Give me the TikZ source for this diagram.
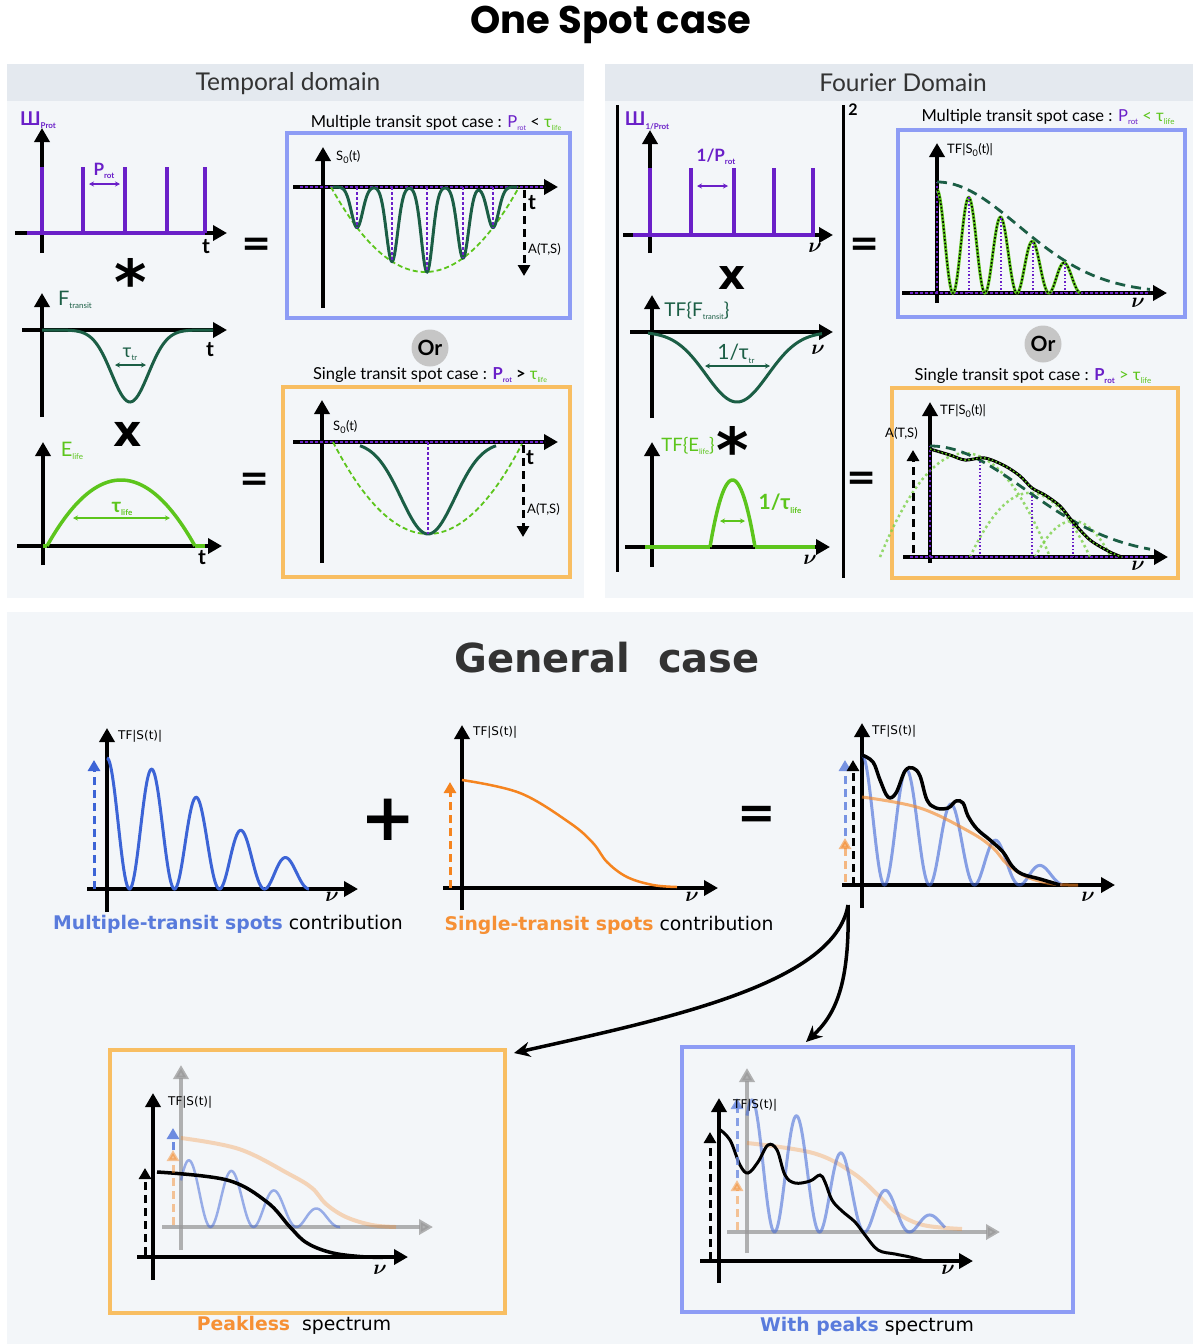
\documentclass[tikz,border=0pt]{standalone}
\usepackage{fontspec}
\setmainfont{Lato}
\newfontfamily\dejavu{DejaVu Sans}
\newfontfamily\poppins{Poppins}
\usetikzlibrary{positioning}
\usetikzlibrary{arrows.meta}

\definecolor{spotpurple}{HTML}{6A1FC8}
\definecolor{transitgreen}{HTML}{1B5E45}
\definecolor{lifegreen}{HTML}{5CC51C}
\definecolor{boxblue}{HTML}{8D9CF5}
\definecolor{boxorange}{HTML}{F8BE62}
\definecolor{peakblue}{HTML}{3C64D6}
\definecolor{flatorange}{HTML}{F5841F}
\definecolor{panelbg}{HTML}{F3F6F9}
\definecolor{headerbg}{HTML}{E4E9EF}
\definecolor{ordisk}{HTML}{C6C6C6}

\newcommand{\lowidx}[2][8]{\raisebox{-0.35ex}{\fontsize{#1}{#1}\selectfont #2}}

\begin{document}
\begin{tikzpicture}[x=1pt,y=-1pt,
	axis/.style={line width=3.5pt,-{Triangle[length=14pt,width=15pt]}},
	greyaxis/.style={axis,draw=black!40,opacity=.75},
	spike/.style={spotpurple,line width=3.5pt},
	dotline/.style={spotpurple,line width=2.5pt,dash pattern=on 2.5pt off 2.5pt},
	thindot/.style={spotpurple,line width=1.5pt,dash pattern=on 1.5pt off 2pt},
	envdash/.style={lifegreen,line width=1.8pt,dash pattern=on 5pt off 3pt},
	envelope/.style={transitgreen,line width=2.8pt,dash pattern=on 10pt off 6pt},
	dip/.style={transitgreen,line width=3pt},
	life/.style={lifegreen,line width=3.5pt},
	measure/.style={{Stealth[length=5pt,width=5pt]}-{Stealth[length=5pt,width=5pt]},line width=1.2pt},
	amp/.style={line width=3pt,dash pattern=on 8pt off 5pt,-{Triangle[length=11pt,width=12pt]}},
	bigarrow/.style={line width=3.5pt,-{Stealth[length=16pt,width=15pt]}},
	plotbox/.style={draw,line width=4pt,fill=panelbg,inner sep=0pt},
	opsign/.style={font=\dejavu\bfseries\fontsize{36}{36}\selectfont,inner sep=0pt},
	orbubble/.style={circle,fill=ordisk,minimum size=37pt,inner sep=0pt,font=\bfseries\fontsize{21}{21}\selectfont},
	casetitle/.style={font=\fontsize{16.5}{16.5}\selectfont,inner sep=0pt},
	axlabel/.style={font=\fontsize{13}{13}\selectfont,inner sep=0pt},
	tflabel/.style={font=\dejavu\fontsize{12}{12}\selectfont,inner sep=0pt},
	tlabel/.style={font=\bfseries\fontsize{21}{21}\selectfont,inner sep=0pt},
	nulabel/.style={font=\boldmath\fontsize{22}{22}\selectfont,inner sep=0pt},
	contrib/.style={font=\dejavu\fontsize{18.8}{18.8}\selectfont,inner sep=0pt},
	declare function={
		envl(\c)=85*(1-((\c-425)/94)^2);
		dipl(\x,\c)=envl(\c)*exp(-min(((\x-\c)/8)^2,12));
		envr(\x)=111*exp(-((\x-937)/115)^2);
		envs(\x)=111*exp(-((\x-930)/135)^2);
	}]

	\useasboundingbox[fill=white] (0,0) rectangle (1200,1344);

	%backgrounds of the three panels
	\fill[panelbg] (7,64) rectangle (584,598);
	\fill[headerbg] (7,64) rectangle (584,101);
	\fill[panelbg] (605,64) rectangle (1193,598);
	\fill[headerbg] (605,64) rectangle (1193,101);
	\fill[panelbg] (7,612) rectangle (1193,1344);

	\node[font=\poppins\bfseries\fontsize{38.5}{40}\selectfont] (onespot) at (611,25) {One Spot case};
	\node[font=\fontsize{24.5}{24.5}\selectfont,text=black!80] (temporal) at (288,84) {Temporal domain};
	\node[font=\fontsize{24.5}{24.5}\selectfont,text=black!80] (fourier) at (903,83) {Fourier Domain};

	%temporal domain: comb, transit and lifetime
	\begin{scope}
		\draw[axis] (42,253) -- (42,128);
		\draw[axis] (15,233) -- (227,233);
		\draw[spike] (27,233) -- (205,233);
		\foreach \s in {42,83,125,167,205}
			\draw[spike] (\s,233) -- (\s,167);
		\node[text=spotpurple,font=\bfseries\fontsize{19}{19}\selectfont,inner sep=0pt] (combl) at (38,120) {Ш\lowidx{Prot}};
		\node[text=spotpurple,font=\bfseries\fontsize{17}{17}\selectfont,inner sep=0pt] (protl) at (104,171) {P\lowidx{rot}};
		\draw[measure,spotpurple] (89,184) -- (120,184);
		\node[tlabel] (tcomb) at (206,247) {t};
		\node[opsign,font=\dejavu\bfseries\fontsize{62}{62}\selectfont] (convl) at (131,281) {*};

		\draw[axis] (42,417) -- (42,293);
		\draw[axis] (22,330) -- (227,330);
		\draw[dip] plot[domain=42:213,samples=90] (\x,{330+72*exp(-((\x-130)/26)^2)});
		\node[text=transitgreen,font=\fontsize{20}{20}\selectfont,inner sep=0pt] (ftransit) at (75,300) {F\lowidx{transit}};
		\node[text=transitgreen,font=\fontsize{19}{19}\selectfont,inner sep=0pt] (tautr) at (130,354) {τ\lowidx{tr}};
		\draw[measure,transitgreen] (115,365) -- (146,365);
		\node[tlabel] (ttransit) at (210,350) {t};
		\node[opsign,font=\dejavu\bfseries\fontsize{44}{44}\selectfont] (timesl) at (128,434) {x};

		\draw[axis] (43,565) -- (43,442);
		\draw[axis] (17,546) -- (222,546);
		\draw[life] (43,546) -- (47,546);
		\draw[life] plot[domain=47:195,samples=60] (\x,{546-66*(1-((\x-121)/74)^2)});
		\draw[life] (195,546) -- (205,546);
		\node[text=lifegreen,font=\fontsize{20}{20}\selectfont,inner sep=0pt] (elife) at (72,451) {E\lowidx{life}};
		\node[text=lifegreen,font=\bfseries\fontsize{20}{20}\selectfont,inner sep=0pt] (taulife) at (122,509) {τ\lowidx{life}};
		\draw[measure,lifegreen] (73,518) -- (170,518);
		\node[tlabel] (tlife) at (202,558) {t};

		\node[opsign] (eqla) at (257,247) {=};
		\node[opsign] (eqlb) at (255,482) {=};
	\end{scope}

	%temporal domain: the two resulting light curves
	\begin{scope}
		\node[plotbox,draw=boxblue,minimum width=283pt,minimum height=185pt] (multileft) at (428.5,225.5) {};
		\node[casetitle] (multilefttitle) at (436,123) {Multiple transit spot case : \textcolor{spotpurple}{P\lowidx[7]{rot}} < \textcolor{lifegreen}{τ\lowidx[7]{life}}};
		\draw[axis] (323,308) -- (323,147);
		\draw[axis] (293,187) -- (558,187);
		\draw[dotline] (300,187) -- (545,187);
		\draw[envdash] plot[domain=331:519,samples=60] (\x,{187+envl(\x)});
		\draw[dip] plot[domain=333:517,samples=300] (\x,{187+dipl(\x,357)+dipl(\x,392)+dipl(\x,427)+dipl(\x,463)+dipl(\x,493)});
		\foreach \c in {357,392,427,463,493}
			\draw[dotline] (\c,187) -- (\c,{187+envl(\c)});
		\draw[amp] (524,190) -- (524,276);
		\node[axlabel,anchor=west] (smulti) at (336,157) {S\textsubscript{0}(t)};
		\node[tlabel] (tmulti) at (532,203) {t};
		\node[axlabel,anchor=west] (amulti) at (528,249) {A(T,S)};

		\node[orbubble] (orleft) at (430,348) {Or};

		\node[plotbox,draw=boxorange,minimum width=287pt,minimum height=190pt] (singleleft) at (426.5,482) {};
		\node[casetitle] (singlelefttitle) at (430,375) {Single transit spot case : \textcolor{spotpurple}{\bfseries P\lowidx[7]{rot}} \textbf{>} \textcolor{lifegreen}{τ\lowidx[7]{life}}};
		\draw[axis] (322,563) -- (322,400);
		\draw[axis] (293,442) -- (558,442);
		\draw[dotline] (300,442) -- (545,442);
		\draw[envdash] plot[domain=333:522,samples=60] (\x,{442+92*(1-((\x-428)/95)^2)});
		\draw[dip] plot[domain=360:496,samples=90] (\x,{442+92*exp(-((\x-428)/38)^2)});
		\draw[dotline] (428,442) -- (428,534);
		\draw[amp] (523,445) -- (523,537);
		\node[axlabel,anchor=west] (ssingle) at (333,427) {S\textsubscript{0}(t)};
		\node[tlabel] (tsingle) at (530,458) {t};
		\node[axlabel,anchor=west] (asingle) at (527,509) {A(T,S)};
	\end{scope}

	%fourier domain: squared modulus of the product
	\begin{scope}
		\draw[line width=3pt] (617,105) -- (617,572);
		\draw[line width=3pt] (843,105) -- (843,578);
		\node[font=\bfseries\fontsize{16}{16}\selectfont,inner sep=0pt] (squared) at (853,110) {2};

		\draw[axis] (650,253) -- (650,130);
		\draw[axis] (623,235) -- (833,235);
		\draw[spike] (633,235) -- (815,235);
		\foreach \s in {650,691,734,774,813}
			\draw[spike] (\s,235) -- (\s,168);
		\node[text=spotpurple,font=\bfseries\fontsize{19}{19}\selectfont,inner sep=0pt] (combr) at (647,121) {Ш\lowidx{1/Prot}};
		\node[text=spotpurple,font=\bfseries\fontsize{17}{17}\selectfont,inner sep=0pt] (invprot) at (716,157) {1/P\lowidx{rot}};
		\draw[measure,spotpurple] (697,186) -- (728,186);
		\node[nulabel] (nucomb) at (815,248) {$\nu$};
		\node[opsign,font=\dejavu\bfseries\fontsize{42}{42}\selectfont] (timesr) at (732,278) {x};

		\draw[axis] (652,418) -- (652,295);
		\draw[axis] (630,332) -- (833,332);
		\draw[dip] plot[domain=648:822,samples=90] (\x,{332+70*exp(-((\x-737)/44)^2)});
		\node[text=transitgreen,font=\fontsize{19}{19}\selectfont,inner sep=0pt] (tfftransit) at (697,311) {TF\{F\lowidx[7.5]{transit}\}};
		\node[text=transitgreen,font=\fontsize{21}{21}\selectfont,inner sep=0pt] (invtautr) at (736,354) {1/τ\lowidx{tr}};
		\draw[measure,transitgreen] (705,366) -- (770,366);
		\node[nulabel] (nutransit) at (818,350) {$\nu$};
		\node[opsign,font=\dejavu\bfseries\fontsize{62}{62}\selectfont] (convr) at (733,449) {*};

		\draw[axis] (652,567) -- (652,442);
		\draw[axis] (625,547) -- (830,547);
		\draw[life] (645,547) -- (710,547);
		\draw[life] plot[domain=710:755,samples=40] (\x,{547-67*(1-((\x-732.5)/22.5)^2)});
		\draw[life] (755,547) -- (815,547);
		\node[text=lifegreen,font=\fontsize{18.5}{18.5}\selectfont,inner sep=0pt] (tfelife) at (688,446) {TF\{E\lowidx[7.5]{life}\}};
		\node[text=lifegreen,font=\bfseries\fontsize{21}{21}\selectfont,inner sep=0pt] (invtaulife) at (780,504) {1/τ\lowidx{life}};
		\draw[measure,lifegreen] (720,521) -- (745,521);
		\node[nulabel] (nulife) at (810,560) {$\nu$};

		\node[opsign] (eqra) at (865,247) {=};
		\node[opsign] (eqrb) at (862,481) {=};
	\end{scope}

	%fourier domain: the two resulting spectra
	\begin{scope}
		\node[plotbox,draw=boxblue,minimum width=287pt,minimum height=187pt] (multiright) at (1041.5,223.5) {};
		\node[casetitle] (multirighttitle) at (1048,117) {Multiple transit spot case : \textcolor{spotpurple}{P\lowidx[8]{rot}} \textcolor{lifegreen}{< τ\lowidx[8]{life}}};
		\draw[axis] (937,303) -- (937,143);
		\draw[axis] (902,293) -- (1167,293);
		\draw[dotline] (910,293) -- (1150,293);
		\draw[dotline] (937,293) -- (937,182);
		\draw[envelope] plot[domain=937:1150,samples=60] (\x,{293-envr(\x)});
		\draw[lifegreen,line width=3pt] plot[domain=937:1081,samples=200] (\x,{293-0.93*envr(\x)*(cos(5.625*(\x-937)))^2});
		\draw[black,line width=1.6pt,dash pattern=on 1.6pt off 2pt] plot[domain=937:1081,samples=200] (\x,{293-0.93*envr(\x)*(cos(5.625*(\x-937)))^2});
		\foreach \c in {969,1001,1033,1065}
			\draw[thindot] (\c,293) -- (\c,{293-0.93*envr(\c)});
		\node[axlabel,anchor=west] (tfmulti) at (947,150) {TF|S\textsubscript{0}(t)|};
		\node[nulabel] (numulti) at (1138,303) {$\nu$};

		\node[orbubble] (orright) at (1043,344) {Or};

		\node[plotbox,draw=boxorange,minimum width=286pt,minimum height=190pt] (singleright) at (1035,483) {};
		\node[casetitle] (singlerighttitle) at (1033,376) {Single transit spot case : \textcolor{spotpurple}{\bfseries P\lowidx[8]{rot}} \textcolor{lifegreen}{> τ\lowidx[8]{life}}};
		\draw[axis] (930,563) -- (930,402);
		\draw[axis] (903,557) -- (1168,557);
		\foreach \c/\w in {965/85,1030/60,1073/38}
			\draw[lifegreen!80,line width=2.5pt,dash pattern=on 2.5pt off 3pt,opacity=.8] plot[domain=\c-\w:\c+\w,samples=50] (\x,{557-envs(\c)*(1-((\x-\c)/\w)^2)});
		\draw[dotline] (910,557) -- (1150,557);
		\draw[dotline] (930,557) -- (930,446);
		\foreach \c in {980,1032,1073}
			\draw[thindot] (\c,557) -- (\c,{557-envs(\c)});
		\draw[envelope] plot[domain=930:1150,samples=60] (\x,{557-envs(\x)});
		\draw[black,line width=3pt] plot[smooth] coordinates {(930,449) (950,455) (965,460) (985,458) (1005,466) (1020,476) (1032,488) (1045,495) (1060,506) (1073,522) (1090,540) (1110,552) (1122,557)};
		\draw[lifegreen,line width=1.5pt,dash pattern=on 1.5pt off 2.5pt] plot[smooth] coordinates {(930,449) (950,455) (965,460) (985,458) (1005,466) (1020,476) (1032,488) (1045,495) (1060,506) (1073,522) (1090,540) (1110,552) (1122,557)};
		\draw[amp] (913,553) -- (913,450);
		\node[axlabel,anchor=west] (tfsingle) at (940,411) {TF|S\textsubscript{0}(t)|};
		\node[axlabel,anchor=west] (asingler) at (885,433) {A(T,S)};
		\node[nulabel] (nusingle) at (1138,566) {$\nu$};
	\end{scope}

	%general case: both contributions and their sum
	\begin{scope}
		\node[font=\dejavu\bfseries\fontsize{40}{40}\selectfont,text=black!80] (general) at (607,658) {General\ \ case};

		\draw[axis] (107,912) -- (107,728);
		\draw[axis] (87,889) -- (358,889);
		\draw[amp,peakblue] (94,889) -- (94,760);
		\draw[peakblue,line width=3pt] plot[domain=107:309,samples=250] (\x,{889-131*exp(-((\x-107)/150)^2)*(cos(4*(\x-107)))^2});
		\node[tflabel,anchor=west] (tfpeaks) at (118,736) {TF|S(t)|};
		\node[nulabel] (nupeaks) at (332,897) {$\nu$};
		\node[contrib] (multicontrib) at (228,924) {\textcolor{peakblue!85!white}{\bfseries Multiple-transit spots} contribution};
		\node[opsign,font=\dejavu\bfseries\fontsize{66}{66}\selectfont] (plus) at (388,820) {+};

		\draw[axis] (462,910) -- (462,725);
		\draw[axis] (443,888) -- (718,888);
		\draw[amp,flatorange] (450,888) -- (450,782);
		\draw[flatorange,line width=2.5pt] plot[smooth,tension=.6] coordinates {(462,780) (520,793) (570,823) (593,843) (607,862) (627,877) (653,885) (677,887)};
		\node[tflabel,anchor=west] (tfflat) at (473,732) {TF|S(t)|};
		\node[nulabel] (nuflat) at (692,897) {$\nu$};
		\node[contrib] (singlecontrib) at (609,925) {\textcolor{flatorange!90!white}{\bfseries Single-transit spots} contribution};
		\node[opsign,font=\dejavu\bfseries\fontsize{46}{46}\selectfont] (eqgen) at (757,817) {=};

		\draw[axis] (862,908) -- (862,723);
		\draw[axis] (842,885) -- (1115,885);
		\draw[peakblue,line width=3pt,opacity=.6] plot[domain=862:1062,samples=250] (\x,{885-130*exp(-((\x-862)/130)^2)*(cos(4*(\x-862)))^2});
		\draw[flatorange,line width=3pt,opacity=.6] plot[smooth,tension=.6] coordinates {(862,797) (920,808) (970,832) (993,848) (1007,864) (1027,877) (1053,884) (1078,885)};
		\draw[black,line width=3.5pt] plot[smooth,tension=.6] coordinates {(862,755) (873,762) (880,780) (888,797) (896,793) (905,771) (913,768) (920,776) (927,800) (936,808) (948,808) (956,801) (963,803) (968,816) (977,829) (990,840) (1003,852) (1012,866) (1022,874) (1040,879) (1060,885)};
		\draw[amp,flatorange,opacity=.55] (845,882) -- (845,838);
		\draw[amp,peakblue!70!white] (845,836) -- (845,760);
		\draw[amp] (853,885) -- (853,760);
		\node[tflabel,anchor=west] (tfsum) at (872,731) {TF|S(t)|};
		\node[nulabel] (nusum) at (1088,897) {$\nu$};
	\end{scope}

	%general case: the two possible outcomes
	\begin{scope}
		\node[plotbox,draw=boxorange,minimum width=395pt,minimum height=263pt] (peaklessbox) at (307.5,1181.5) {};
		\draw[greyaxis] (181,1250) -- (181,1065);
		\draw[greyaxis] (162,1227) -- (433,1227);
		\draw[flatorange,line width=4pt,opacity=.3] plot[smooth,tension=.6] coordinates {(181,1138) (239,1149) (289,1174) (312,1188) (326,1204) (346,1217) (372,1225) (396,1227)};
		\draw[peakblue,line width=2.5pt,opacity=.5] plot[domain=181:340,samples=200] (\x,{1227-67*exp(-((\x-181)/120)^2)*(cos(4.186*(\x-189)))^2});
		\draw[axis] (153,1280) -- (153,1093);
		\draw[axis] (137,1257) -- (408,1257);
		\draw[black,line width=3.5pt] plot[smooth,tension=.6] coordinates {(157,1172) (227,1180) (267,1202) (290,1227) (307,1243) (333,1253) (367,1257) (390,1257)};
		\draw[amp,flatorange,opacity=.45] (173,1225) -- (173,1150);
		\draw[amp,peakblue!75!white] (173,1150) -- (173,1128);
		\draw[amp] (145,1255) -- (145,1168);
		\node[tflabel,anchor=west] (tfpeakless) at (168,1102) {TF|S(t)|};
		\node[nulabel] (nupeakless) at (380,1270) {$\nu$};
		\node[contrib] (peaklesslabel) at (294,1325) {\textcolor{flatorange!90!white}{\bfseries Peakless}\ \ spectrum};

		\node[plotbox,draw=boxblue,minimum width=391pt,minimum height=265pt] (withpeaksbox) at (877.5,1179.5) {};
		\draw[greyaxis] (747,1253) -- (747,1068);
		\draw[greyaxis] (727,1232) -- (1000,1232);
		\draw[flatorange,line width=4pt,opacity=.3] plot[smooth,tension=.6] coordinates {(747,1143) (813,1153) (853,1173) (880,1197) (897,1213) (923,1225) (962,1229)};
		\draw[peakblue,line width=3pt,opacity=.55] plot[domain=747:945,samples=250] (\x,{1232-132*exp(-((\x-752)/125)^2)*(cos(4*(\x-752)))^2});
		\draw[axis] (719,1283) -- (719,1098);
		\draw[axis] (700,1261) -- (973,1261);
		\draw[black,line width=3pt] plot[smooth,tension=.6] coordinates {(719,1129) (730,1140) (740,1165) (748,1173) (758,1162) (768,1145) (777,1150) (785,1175) (795,1183) (810,1181) (820,1175) (825,1182) (832,1200) (842,1211) (855,1222) (865,1235) (878,1250) (895,1254) (910,1257) (925,1261)};
		\draw[amp,flatorange,opacity=.45] (737,1230) -- (737,1180);
		\draw[amp,peakblue!75!white,opacity=.8] (737,1178) -- (737,1098);
		\draw[amp] (710,1260) -- (710,1132);
		\node[tflabel,anchor=west] (tfwithpeaks) at (733,1105) {TF|S(t)|};
		\node[nulabel] (nuwithpeaks) at (948,1270) {$\nu$};
		\node[contrib] (withpeakslabel) at (867,1326) {\textcolor{peakblue!85!white}{\bfseries With peaks} spectrum};

		\coordinate (fork) at (848,905);
		\draw[bigarrow] (fork) .. controls (835,985) and (660,1020) .. ([xshift=7pt,yshift=-5pt]peaklessbox.north east);
		\draw[bigarrow] (fork) .. controls (850,985) and (835,1015) .. ([xshift=126pt,yshift=3pt]withpeaksbox.north west);
	\end{scope}
\end{tikzpicture}
\end{document}
